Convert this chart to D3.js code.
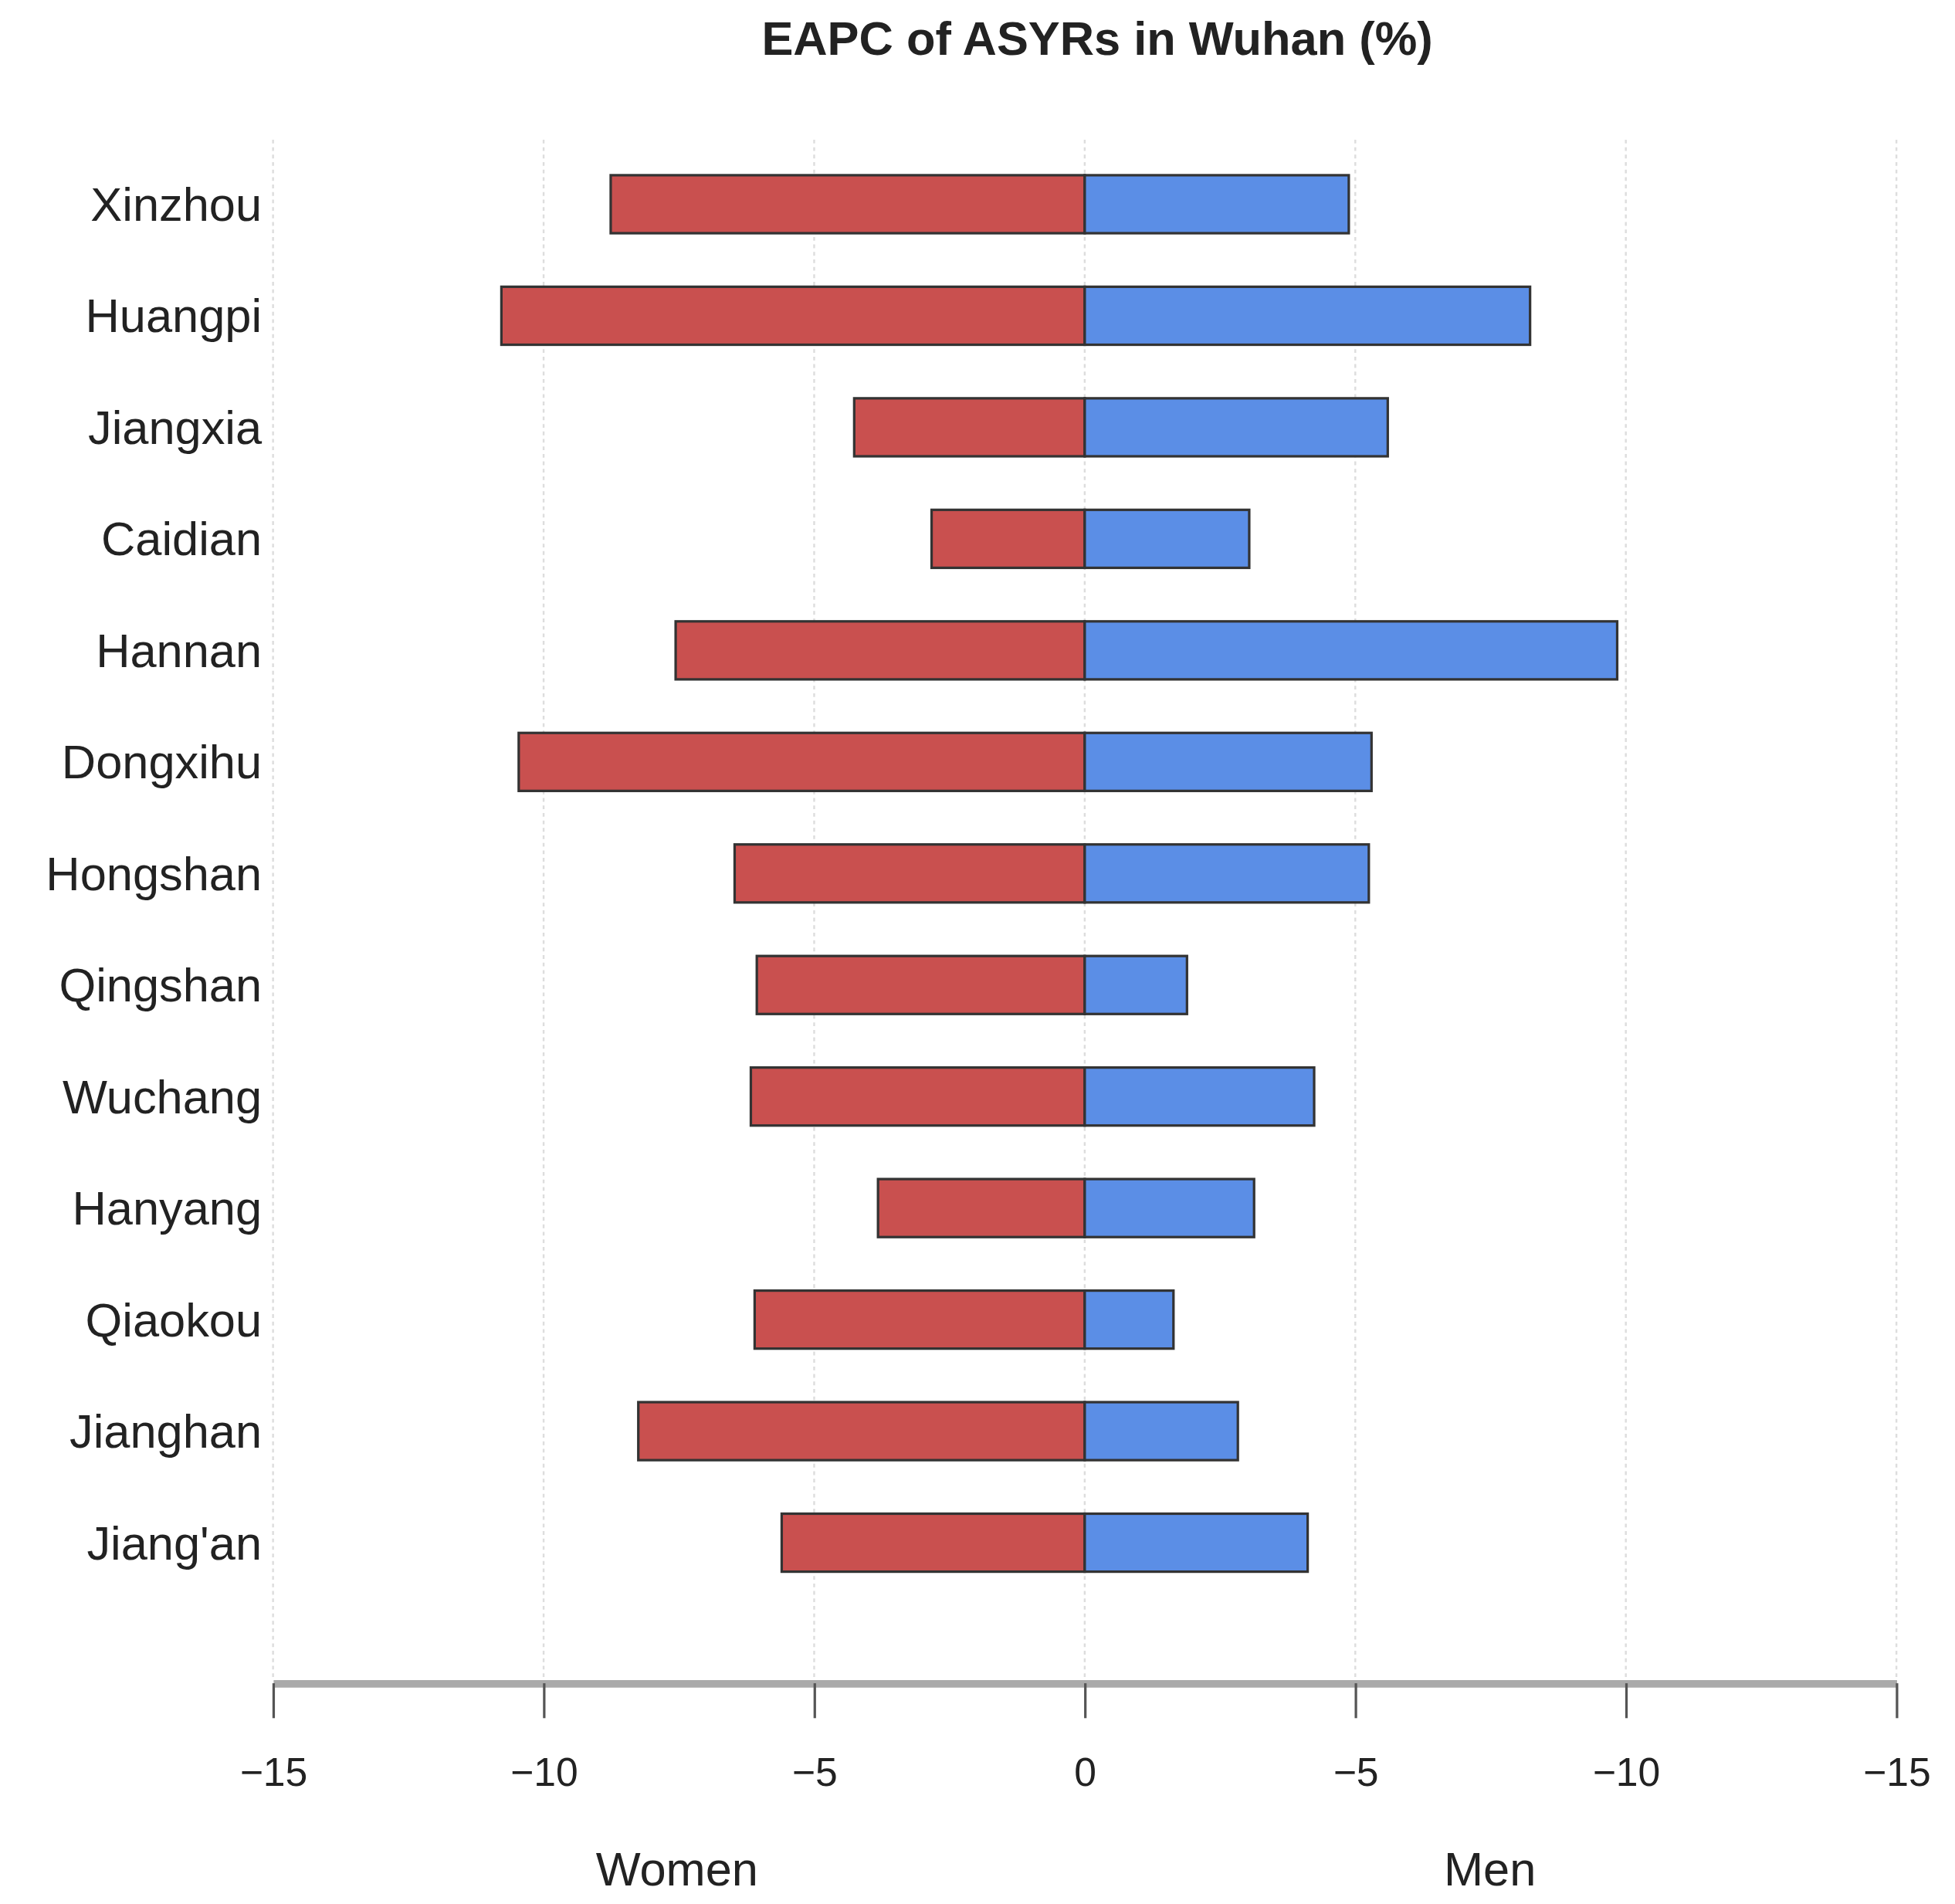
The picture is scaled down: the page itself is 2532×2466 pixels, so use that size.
<!DOCTYPE html>
<html><head><meta charset="utf-8">
<script src="https://cdn.jsdelivr.net/npm/d3@7"></script>
<style>body{margin:0;background:#fff}</style></head>
<body><svg id="c" width="2532" height="2466" viewBox="0 0 1568 1527"></svg>
<script>
const districts=["Xinzhou","Huangpi","Jiangxia","Caidian","Hannan","Dongxihu","Hongshan","Qingshan","Wuchang","Hanyang","Qiaokou","Jianghan","Jiang'an"];
const women=[8.76,10.78,4.26,2.83,7.56,10.46,6.47,6.06,6.17,3.82,6.1,8.25,5.6];
const men=[4.88,8.23,5.6,3.04,9.84,5.3,5.25,1.89,4.24,3.13,1.64,2.83,4.12];
const ticks=[-15,-10,-5,0,5,10,15];
const tickLabels=["\u221215","\u221210","\u22125","0","\u22125","\u221210","\u221215"];

const svg=d3.select("#c");
const x=d3.scaleLinear().domain([-15,15]).range([219,1521]);
const y=d3.scaleBand().domain(districts).range([119,1282]).paddingInner(0.48).paddingOuter(0.24);
const font="Liberation Sans, Arial, sans-serif";
svg.append("rect").attr("width",1568).attr("height",1527).attr("fill","#fff");
svg.append("text").attr("x",880).attr("y",44).attr("text-anchor","middle").attr("font-family",font)
 .attr("font-weight","bold").attr("font-size",38).attr("fill","#222").text("EAPC of ASYRs in Wuhan (%)");
svg.selectAll(".grid").data(ticks).join("line").attr("x1",d=>x(d)).attr("x2",d=>x(d))
 .attr("y1",112).attr("y2",1347).attr("stroke","#ddd").attr("stroke-width",1.5).attr("stroke-dasharray","3,3");
svg.selectAll(".w").data(districts).join("rect").attr("x",(d,i)=>x(-women[i])).attr("y",d=>y(d))
 .attr("width",(d,i)=>x(0)-x(-women[i])).attr("height",y.bandwidth()).attr("fill","#c9504f").attr("stroke","#333").attr("stroke-width",2);
svg.selectAll(".m").data(districts).join("rect").attr("x",x(0)).attr("y",d=>y(d))
 .attr("width",(d,i)=>x(men[i])-x(0)).attr("height",y.bandwidth()).attr("fill","#5b8ee6").attr("stroke","#333").attr("stroke-width",2);
svg.selectAll(".lab").data(districts).join("text").attr("x",210).attr("y",d=>y(d)+y.bandwidth()/2)
 .attr("dy","0.35em").attr("text-anchor","end").attr("font-family",font).attr("font-size",38).attr("fill","#222").text(d=>d);
const ax=svg.append("g").attr("transform","translate(0,1350)");
ax.call(d3.axisBottom(x).tickValues(ticks).tickFormat((d,i)=>tickLabels[i]).tickSize(28).tickSizeOuter(0));
ax.select(".domain").attr("stroke","#aaa").attr("stroke-width",6);
ax.selectAll(".tick line").attr("stroke","#555").attr("stroke-width",2);
ax.selectAll(".tick text").attr("font-family",font).attr("font-size",32).attr("fill","#222").attr("dy","1.6em");
svg.append("text").attr("x",543).attr("y",1512).attr("text-anchor","middle").attr("font-family",font).attr("font-size",38).attr("fill","#222").text("Women");
svg.append("text").attr("x",1195).attr("y",1512).attr("text-anchor","middle").attr("font-family",font).attr("font-size",38).attr("fill","#222").text("Men");
</script></body></html>
